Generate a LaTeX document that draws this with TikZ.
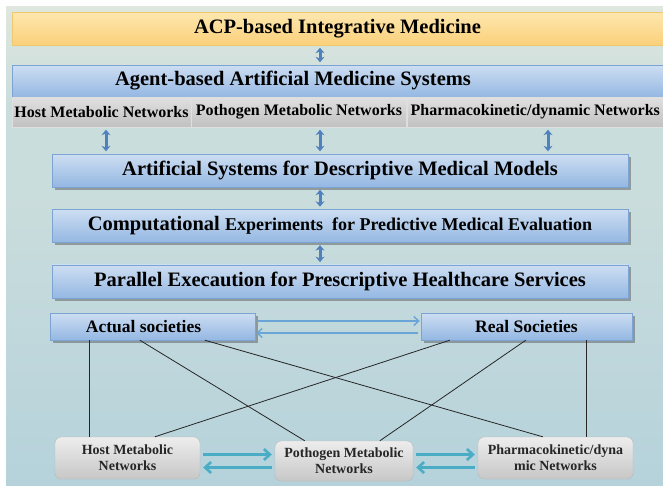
\documentclass[tikz,border=0pt]{standalone}
\usepackage{fontspec}
\setmainfont{Liberation Serif}
\usetikzlibrary{arrows.meta,shadows,chains,positioning}

\definecolor{bgtop}{RGB}{223,231,222}
\definecolor{bgbot}{RGB}{181,210,219}
\definecolor{ortop}{RGB}{253,231,175}
\definecolor{orbot}{RGB}{251,208,122}
\definecolor{orline}{RGB}{240,200,110}
\definecolor{bltop}{RGB}{205,222,242}
\definecolor{blbot}{RGB}{148,183,226}
\definecolor{blline}{RGB}{124,163,210}
\definecolor{grtop}{RGB}{224,224,224}
\definecolor{grbot}{RGB}{193,193,193}
\definecolor{arblue}{RGB}{79,129,189}
\definecolor{arcyan}{RGB}{75,172,198}
\definecolor{arlight}{RGB}{105,165,215}

\tikzset{
  bar/.style={rectangle, draw=blline, top color=bltop, bottom color=blbot,
    inner sep=0pt, text=black, font=\bfseries\fontsize{20.5}{24}\selectfont},
  shadowbar/.style={bar, drop shadow={shadow xshift=2.5pt, shadow yshift=-2.5pt,
    fill=black!70, opacity=.45}},
  cell/.style={rectangle, draw=white!75!gray, top color=grtop, bottom color=grbot,
    inner sep=0pt, minimum height=30, text=black, font=\bfseries\fontsize{16}{19}\selectfont},
  net/.style={rectangle, rounded corners=6pt, draw=black!28, top color=black!7,
    bottom color=black!22, inner sep=0pt, align=center, text=black!85,
    font=\bfseries\fontsize{14}{16}\selectfont},
  updown/.style={{Stealth[length=5.5pt,width=9pt]}-{Stealth[length=5.5pt,width=9pt]},
    line width=3pt, arblue, shorten <=2.5pt, shorten >=2.5pt},
  link/.style={-{Straight Barb[length=5pt,width=9pt]}, arlight, line width=1.4pt,
    shorten <=3pt, shorten >=1pt},
  flow/.style={-{Straight Barb[length=6pt,width=11pt]}, arcyan, line width=2.6pt,
    shorten <=3pt, shorten >=3pt},
  tie/.style={black!85, line width=0.8pt}
}

\begin{document}
\begin{tikzpicture}[x=1pt,y=-1pt]

% page and background
\useasboundingbox (0,0) rectangle (663,485);
\fill[white] (0,0) rectangle (663,485);
\shade[top color=bgtop, bottom color=bgtop!50!bgbot, middle color=bgtop!50!bgbot] (6,6) rectangle (663,200);
\shade[top color=bgtop!50!bgbot, bottom color=bgbot] (6,199.5) rectangle (663,485);

\node[bar, draw=orline, top color=ortop, bottom color=orbot, minimum width=651, minimum height=33]
  (acp) at (337.5,28.5) {ACP-based Integrative Medicine};
\node[bar, minimum width=651, minimum height=32]
  (abm) at (337.5,81) {Agent-based Artificial Medicine Systems\hspace*{89pt}};

\begin{scope}[shift={(101.5,112)},start chain=going right,node distance=0pt]
\def\nets{1/{Host Metabolic Networks}/179,2/{Pothogen Metabolic Networks}/215,3/{Pharmacokinetic/dynamic Networks}/257}
\foreach \i / \element / \w in \nets
  \node [on chain, cell, minimum width=\w] (g\i) {\element};
\end{scope}

\begin{scope}[shift={(340,170.5)},start chain=going below,node distance=22pt]
\node [on chain, shadowbar, minimum width=576, minimum height=33] (asd)
  {Artificial Systems for Descriptive Medical Models};
\node [on chain, shadowbar, minimum width=576, minimum height=33] (cpe)
  {Computational \fontsize{18}{22}\selectfont Experiments\ \ for Predictive Medical Evaluation};
\node [on chain, shadowbar, minimum width=576, minimum height=33.5] (pe)
  {Parallel Execaution for Prescriptive Healthcare Services};
\end{scope}

\coordinate (col1) at (106,0);
\coordinate (col2) at (320,0);
\coordinate (col3) at (548,0);

\draw[updown] (acp.south -| col2) -- (abm.north -| col2);
\foreach \i in {1,2,3}
  \draw[updown] (g\i.south -| col\i) -- (asd.north -| col\i);
\draw[updown] (asd.south -| col2) -- (cpe.north -| col2);
\draw[updown] (cpe.south -| col2) -- (pe.north -| col2);

% societies
\node[shadowbar, font=\bfseries\fontsize{17.5}{21}\selectfont, minimum width=205, minimum height=27]
  (as) at (152.5,326.5) {Actual societies\hspace*{18pt}};
\node[shadowbar, font=\bfseries\fontsize{17.5}{21}\selectfont, minimum width=211, minimum height=27]
  (rs) at (526.5,326.5) {Real Societies};

\draw[link] ([yshift=5.5]as.east) -- ([yshift=5.5]as.east -| rs.west);
\draw[link] ([yshift=-6.5]as.east -| rs.west) -- ([yshift=-6.5]as.east);

% networks at the bottom
\foreach \i / \x / \y / \w / \h / \element in {1/127.5/458/145/42/{Host Metabolic\\Networks},
    2/344/461/138/40/{Pothogen Metabolic\\Networks},
    3/555.5/458/155/42/{Pharmacokinetic/dyna\\mic Networks}}
  \node[net, minimum width=\w, minimum height=\h] (b\i) at (\x,\y) {\element};

\draw[flow] ([yshift=6.5]b2.west -| b1.east) -- ([yshift=6.5]b2.west);
\draw[flow] ([yshift=-6.5]b2.west) -- ([yshift=-6.5]b2.west -| b1.east);
\draw[flow] ([yshift=6.5]b2.east) -- ([yshift=6.5]b2.east -| b3.west);
\draw[flow] ([yshift=-6.5]b2.east -| b3.west) -- ([yshift=-6.5]b2.east);

\draw[tie] ([xshift=40]as.south west) -- ([xshift=40]as.south west |- b1.north);
\draw[tie] ([xshift=90]as.south west) -- ([xshift=30]b2.north west);
\draw[tie] ([xshift=155]as.south west) -- ([xshift=65]b3.north west);
\draw[tie] ([xshift=29]rs.south west) -- ([xshift=100]b1.north west);
\draw[tie] ([xshift=105]rs.south west) -- ([xshift=105]b2.north west);
\draw[tie] ([xshift=166]rs.south west) -- ([xshift=166]rs.south west |- b3.north);

\end{tikzpicture}
\end{document}
